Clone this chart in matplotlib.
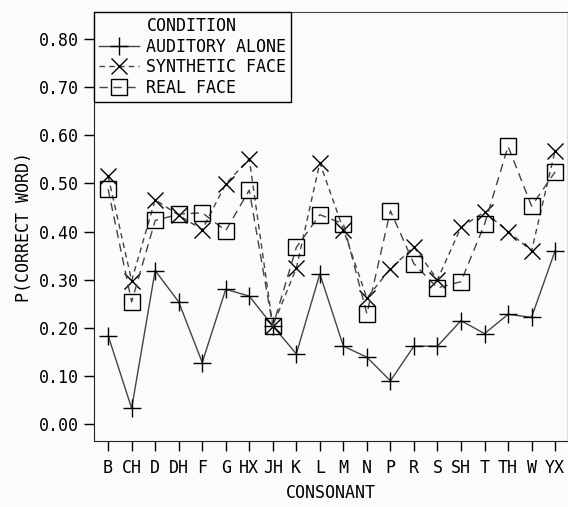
import matplotlib.pyplot as plt

plt.rcParams['font.family'] = 'DejaVu Sans Mono'
plt.rcParams['font.size'] = 12

consonants = ['B', 'CH', 'D', 'DH', 'F', 'G', 'HX', 'JH', 'K', 'L',
              'M', 'N', 'P', 'R', 'S', 'SH', 'T', 'TH', 'W', 'YX']
auditory = [0.184, 0.033, 0.319, 0.254, 0.128, 0.280, 0.266, 0.204, 0.146, 0.312,
            0.162, 0.139, 0.090, 0.162, 0.162, 0.215, 0.188, 0.228, 0.222, 0.360]
synthetic = [0.515, 0.298, 0.466, 0.434, 0.404, 0.499, 0.551, 0.204, 0.324, 0.543,
             0.404, 0.262, 0.323, 0.368, 0.300, 0.409, 0.441, 0.400, 0.360, 0.568]
real = [0.488, 0.254, 0.423, 0.436, 0.439, 0.402, 0.486, 0.203, 0.367, 0.435,
        0.416, 0.229, 0.443, 0.333, 0.283, 0.296, 0.415, 0.577, 0.453, 0.524]
yticks = [0.0, 0.1, 0.2, 0.3, 0.4, 0.5, 0.6, 0.7, 0.8]

bg = '#fafcfc'
fig = plt.figure(figsize=(5.68, 5.07), dpi=100, facecolor=bg)
ax = fig.add_axes([0.1655, 0.1302, 0.8325, 0.8461], facecolor=bg)

x = list(range(len(consonants)))
ax.plot(x, auditory, color='#444444', lw=1, ls='-', marker='+', ms=13,
        mec='black', mew=1, label='AUDITORY ALONE')
ax.plot(x, synthetic, color='#444444', lw=1, ls=(0, (4, 3)), marker='x', ms=11,
        mec='black', mew=1, label='SYNTHETIC FACE')
ax.plot(x, real, color='#444444', lw=1, ls=(0, (6, 4)), marker='s', ms=11,
        mfc='none', mec='black', mew=1, label='REAL FACE')

ax.set_xlim(-0.6, 19.5)
ax.set_ylim(-0.035, 0.856)
ax.set_xticks(x)
ax.set_xticklabels(consonants)
ax.set_yticks(yticks)
ax.set_yticklabels(['%.2f' % v for v in yticks])
ax.tick_params(direction='out', length=7, width=1, color='black', pad=4)
ax.tick_params(axis='x', pad=6)

for s in ['left', 'bottom']:
    ax.spines[s].set_color('#222222')
ax.spines['top'].set_color('#444444')
ax.spines['right'].set_color('#dddddd')

ax.set_xlabel('CONSONANT', labelpad=5)
ax.set_ylabel('P(CORRECT WORD)', labelpad=4)

leg = ax.legend(title='CONDITION', loc='upper left', borderaxespad=0,
                fancybox=False, framealpha=1, edgecolor='black',
                handlelength=2.4, handletextpad=0.4, labelspacing=0.15,
                borderpad=0.3, facecolor=bg)
leg.get_frame().set_linewidth(1)
leg.get_title().set_fontsize(12)

fig.savefig('out.png', dpi=100, facecolor=bg)
